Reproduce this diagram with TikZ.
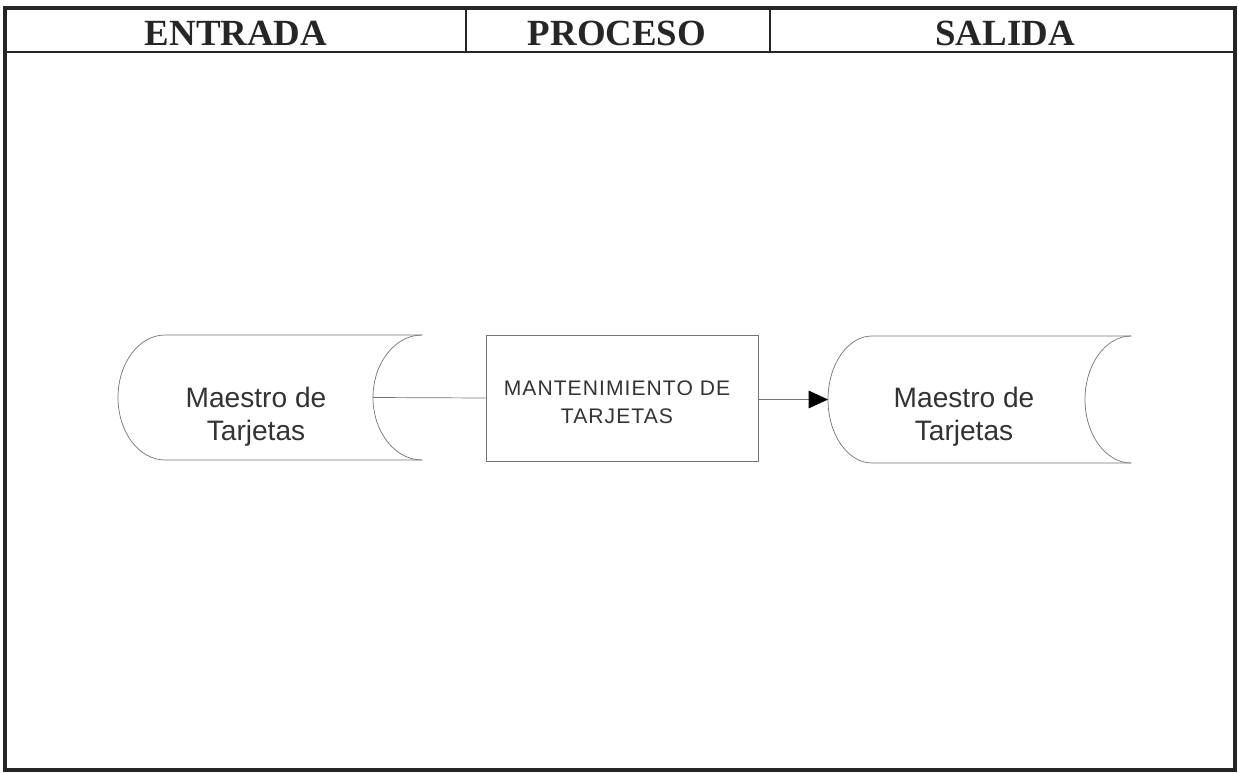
\documentclass[tikz,border=0pt]{standalone}
\usepackage{fontspec}
\setmainfont{Liberation Serif}
\newfontfamily\arialfont{Liberation Sans}
\newfontfamily\arialwide[LetterSpace=5]{Liberation Sans}
\usetikzlibrary{arrows.meta}
\colorlet{framecol}{black!85}
\colorlet{shapecol}{black!55}
\colorlet{textcol}{black!80}
\tikzset{
  headtext/.style={font=\fontsize{21}{25}\selectfont\bfseries, text=framecol},
  datatext/.style={font=\arialfont\fontsize{16}{19}\selectfont, align=center, text=textcol},
  procbox/.style={draw=shapecol, thin, minimum width=5.44cm, minimum height=2.52cm,
    font=\arialwide\fontsize{12}{16}\selectfont, align=center, text=textcol}
}

\begin{document}
\begin{tikzpicture}[x=0.02cm, y=-0.02cm,
    >={Triangle[length=11pt, width=10pt, color=black]}]

  \useasboundingbox (0,0) rectangle (1239,773);

  % Outer frame and header row.
  \draw[line width=2.3pt, framecol] (5,8) -- (1235,8);
  \draw[line width=2.3pt, framecol] (5,6) -- (5,770) -- (1235,770) -- (1235,6);
  \draw[line width=1.2pt, framecol] (5,52) -- (1235,52);
  \draw[line width=0.9pt, framecol] (466,8) -- (466,52);
  \draw[line width=0.9pt, framecol] (770,8) -- (770,52);

  % Column titles.
  \node[headtext] (hin)   at (236,33) {ENTRADA};
  \node[headtext] (hproc) at (617,33) {PROCESO};
  \node[headtext] (hout)  at (1005,33) {SALIDA};

  % Stored data -- input.
  \draw[thin, shapecol] (422,335) -- (165,335)
    .. controls (139,335) and (118,363) .. (118,397.5)
    .. controls (118,432) and (139,460) .. (165,460) -- (422,460);
  \draw[thin, shapecol] (422,335)
    .. controls (395,335) and (373,363) .. (373,397.5)
    .. controls (373,432) and (395,460) .. (422,460);
  \coordinate (mi-out) at (373,397.5);
  \node[datatext] (mi) at (256,417) {Maestro de\\Tarjetas};

  % Process.
  \node[procbox] (proc) at (622,398) {};
  \node[font=\arialwide\fontsize{12}{16}\selectfont, align=center, text=textcol]
    (proctxt) at (617,402) {MANTENIMIENTO DE\\TARJETAS};

  % Stored data -- output.
  \draw[thin, shapecol] (1131,336) -- (872,336)
    .. controls (848,336) and (828,364) .. (828,399.5)
    .. controls (828,435) and (848,463) .. (872,463) -- (1131,463);
  \draw[thin, shapecol] (1131,336)
    .. controls (1106,336) and (1085,364) .. (1085,399.5)
    .. controls (1085,435) and (1106,463) .. (1131,463);
  \coordinate (mo-in) at (828,399.5);
  \node[datatext] (mo) at (964,417) {Maestro de\\Tarjetas};

  % Flow.
  \draw[thin, shapecol] (mi-out) -- (proc.west);
  \draw[->, thin, shapecol] (proc.east |- mo-in) -- (mo-in);

\end{tikzpicture}
\end{document}
